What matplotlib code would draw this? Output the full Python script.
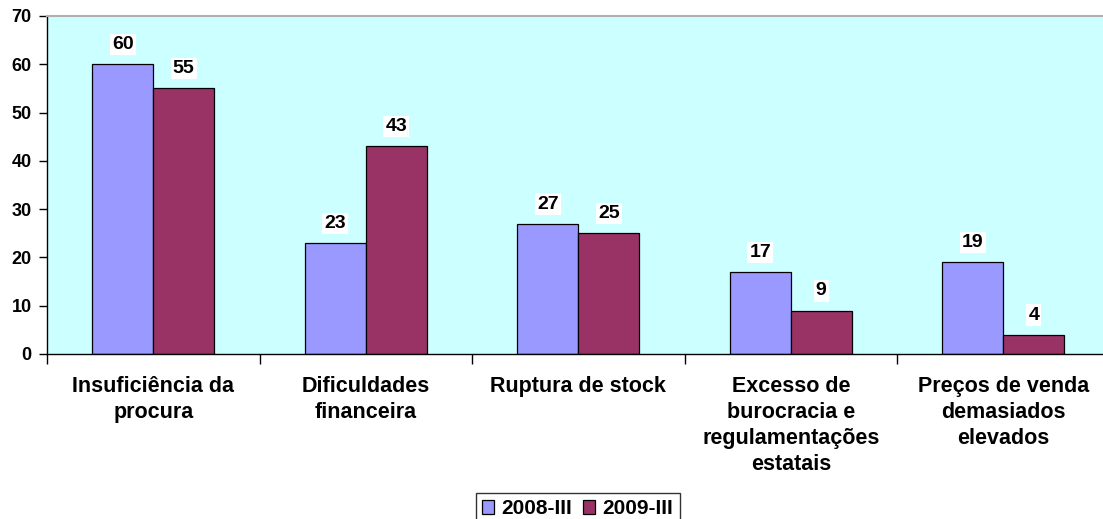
import numpy as np
import matplotlib
matplotlib.use('Agg')
from matplotlib import pyplot as plt

categories = ['Insuficiência da\nprocura', 'Dificuldades\nfinanceira', 'Ruptura de stock',
	'Excesso de\nburocracia e\nregulamentações\nestatais', 'Preços de venda\ndemasiados\nelevados']
series_names = ['2008-III', '2009-III']
values_2008 = [60, 23, 27, 17, 19]
values_2009 = [55, 43, 25, 9, 4]
colors = ['#9999FF', '#993366']

plt.rcParams['font.family'] = ['Liberation Sans', 'DejaVu Sans']
plt.rcParams['font.weight'] = 'bold'

fig = plt.figure(figsize=(11.03, 5.19), dpi=100)
# plot area runs a little past the right edge of the picture, as in the reference
ax = fig.add_axes([47 / 1103, 1 - 354 / 519, 1062.5 / 1103, 338 / 519])
ax.set_facecolor('#CCFFFF')

x = np.arange(len(categories))
w = 0.287
for i, (vals, name) in enumerate(zip([values_2008, values_2009], series_names)):
	pos = x + (i - 0.5) * w
	ax.bar(pos, vals, w, color=colors[i], edgecolor='black', linewidth=0.9, label=name, zorder=2)
	for p, v in zip(pos, vals):
		ax.text(p, v + 2.3, str(v), ha='center', va='bottom', fontsize=14, fontweight='bold',
			bbox=dict(facecolor='white', edgecolor='none', pad=1.5), zorder=3)

ax.set_xlim(-0.5, len(categories) - 0.5)
ax.set_ylim(0, 70)
ax.set_yticks(range(0, 71, 10))
ax.tick_params(axis='y', direction='out', length=6, width=1, labelsize=13, pad=5)

ax.set_xticks(np.arange(-0.5, len(categories), 1.0))
ax.set_xticklabels([])
ax.tick_params(axis='x', which='major', direction='out', length=7, width=1)
ax.set_xticks(x, minor=True)
ax.set_xticklabels(categories, minor=True, fontsize=15.5, fontweight='bold', linespacing=1.3, va='top')
ax.tick_params(axis='x', which='minor', length=0, pad=16)

for s in ['left', 'bottom']:
	ax.spines[s].set_color('black')
	ax.spines[s].set_linewidth(1)
ax.spines['top'].set_color('#B0B0B0')
ax.spines['top'].set_linewidth(1.5)
ax.spines['right'].set_visible(False)

leg = fig.legend(loc='upper center', bbox_to_anchor=(577.5 / 1103, 1 - 493 / 519), ncol=2,
	frameon=True, fancybox=False, edgecolor='black', handlelength=0.6, handleheight=0.6,
	handletextpad=0.35, columnspacing=0.5, borderpad=0.3, borderaxespad=0,
	prop={'weight': 'bold', 'size': 15})
leg.get_frame().set_linewidth(1)

fig.savefig('out.png', dpi=100)
